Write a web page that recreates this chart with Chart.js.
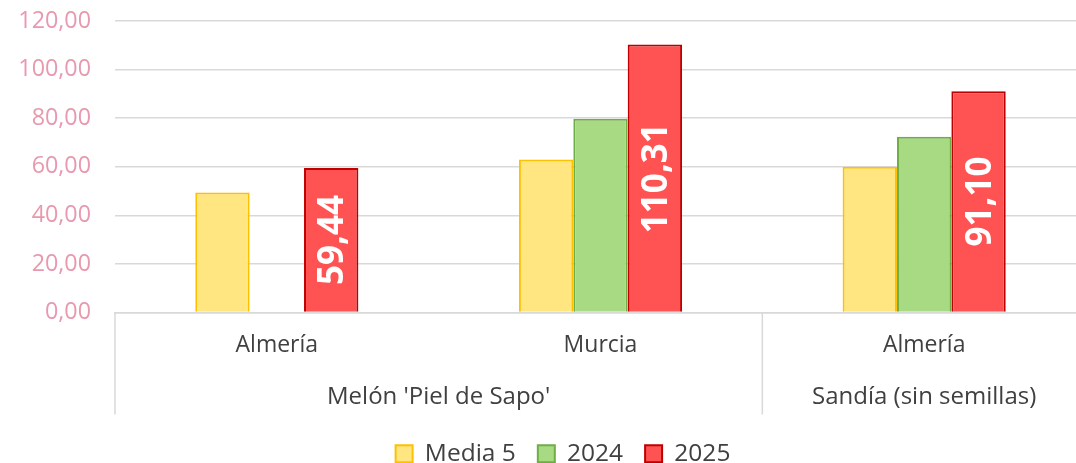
<!DOCTYPE html>
<html>
<head>
<meta charset="utf-8">
<script src="https://cdn.jsdelivr.net/npm/chart.js@4"></script>
<style>
  html, body { margin: 0; padding: 0; background: #fff; overflow: hidden; }
  #wrap { position: relative; top: -17px; width: 1086px; height: 493px; }
</style>
</head>
<body>
<div id="wrap"><canvas id="mycanvas"></canvas></div>
<script>
// categories (level 1) and their parent groups (level 2)
var categories = ['Almería', 'Murcia', 'Almería'];
var groupNames = ["Melón 'Piel de Sapo'", 'Sandía (sin semillas)'];
var groupSizes = [2, 1];

// series
var seriesNames = ['Media 5', '2024', '2025'];
var media5 = [49.4, 63.0, 60.0];
var y2024 = [null, 79.8, 72.3];
var y2025 = [59.44, 110.31, 91.10];

var FONT = "'Open Sans', 'Noto Sans', sans-serif";

function comma(v) {
    return Number(v).toFixed(2).replace('.', ',');
}

// legend sits a bit right of the canvas centre in the original
var legendShift = {
    id: 'legendShift',
    afterLayout: function(chart) {
        if (chart.legend) chart.legend.left += 40;
    }
};

// white rotated labels in the 2025 bars
var barLabels = {
    id: 'barLabels',
    afterDatasetsDraw: function(chart) {
        var ctx = chart.ctx;
        var meta = chart.getDatasetMeta(2);
        ctx.save();
        ctx.fillStyle = '#ffffff';
        ctx.font = 'bold 35px ' + FONT;
        ctx.textAlign = 'center';
        ctx.textBaseline = 'middle';
        meta.data.forEach(function(bar, i) {
            if (y2025[i] == null) return;
            var cy = (bar.y + bar.base) / 2;
            ctx.save();
            ctx.translate(bar.x + 2, cy);
            ctx.rotate(-Math.PI / 2);
            ctx.fillText(comma(y2025[i]), 0, 0);
            ctx.restore();
        });
        ctx.restore();
    }
};

// second level of the x axis + separators
var groupAxis = {
    id: 'groupAxis',
    afterDraw: function(chart) {
        var ctx = chart.ctx;
        var x = chart.scales.x;
        var step = x.getPixelForValue(1) - x.getPixelForValue(0);
        ctx.save();
        ctx.strokeStyle = '#d9d9d9';
        ctx.lineWidth = 1.5;
        ctx.fillStyle = '#404040';
        ctx.font = '24px ' + FONT;
        ctx.textAlign = 'center';
        ctx.textBaseline = 'middle';
        var start = 0;
        groupNames.forEach(function(name, g) {
            var end = start + groupSizes[g] - 1;
            var left = x.getPixelForValue(start) - step / 2;
            ctx.beginPath();
            ctx.moveTo(left, x.top);
            ctx.lineTo(left, x.top + 102);
            ctx.stroke();
            var cx = (x.getPixelForValue(start) + x.getPixelForValue(end)) / 2;
            ctx.fillText(name, cx, x.top + 85);
            start = end + 1;
        });
        ctx.restore();
    }
};

var chartdata = {
    labels: categories,
    datasets: [
        {
            label: seriesNames[0],
            backgroundColor: '#FFE680',
            borderColor: '#FFC000',
            borderWidth: 2,
            data: media5
        },
        {
            label: seriesNames[1],
            backgroundColor: '#A8DA84',
            borderColor: '#70AD47',
            borderWidth: 2,
            data: y2024
        },
        {
            label: seriesNames[2],
            backgroundColor: '#FF5252',
            borderColor: '#C00000',
            borderWidth: 2,
            data: y2025
        }
    ]
};

var ctx = document.getElementById('mycanvas');
var barGraph = new Chart(ctx, {
    type: 'bar',
    data: chartdata,
    plugins: [legendShift, barLabels, groupAxis],
    options: {
        responsive: true,
        maintainAspectRatio: false,
        animation: false,
        layout: { padding: 0 },
        datasets: {
            bar: { categoryPercentage: 0.504, barPercentage: 1 }
        },
        plugins: {
            tooltip: { enabled: false },
            legend: {
                position: 'bottom',
                labels: {
                    font: { family: FONT, size: 24.5 },
                    color: '#404040',
                    boxWidth: 17,
                    boxHeight: 17,
                    padding: 22
                }
            }
        },
        scales: {
            x: {
                grid: { display: false, drawTicks: false },
                border: { color: '#d9d9d9', width: 1.5 },
                ticks: {
                    font: { family: FONT, size: 23 },
                    color: '#404040',
                    padding: 19,
                    maxRotation: 0
                },
                afterFit: function(scale) { scale.height = 107; }
            },
            y: {
                min: 0,
                max: 120,
                grid: { color: '#d9d9d9', lineWidth: 1.5, drawTicks: false },
                border: { display: false },
                ticks: {
                    stepSize: 20,
                    font: { family: FONT, size: 23.3 },
                    color: '#E899AD',
                    padding: 24,
                    callback: function(v) { return comma(v); }
                },
                afterFit: function(scale) { scale.width = 115; }
            }
        }
    }
});
</script>
</body>
</html>
